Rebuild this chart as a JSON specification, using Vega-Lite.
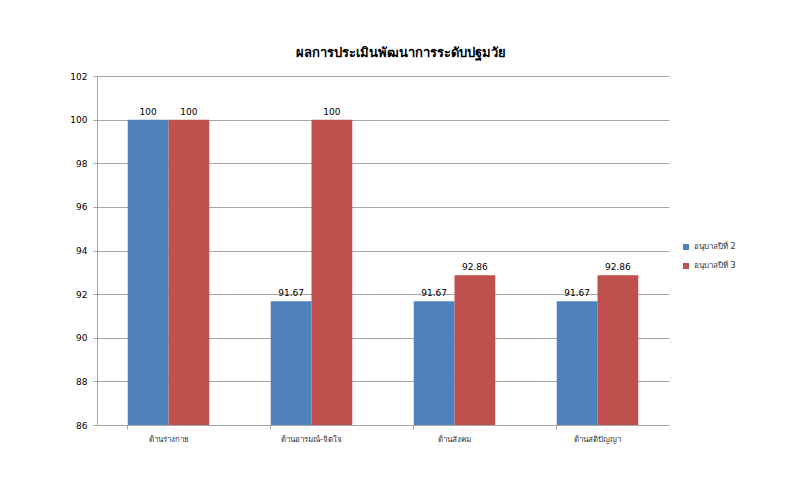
{
  "$schema": "https://vega.github.io/schema/vega-lite/v6.json",
  "width": 572,
  "height": 349,
  "autosize": {"type": "none"},
  "padding": {"left": 97, "top": 76, "right": 131, "bottom": 75},
  "background": "white",
  "title": {
    "text": "ผลการประเมินพัฒนาการระดับปฐมวัย",
    "fontSize": 13,
    "fontWeight": "bold",
    "color": "#000000",
    "offset": 12,
    "dx": 18,
    "font": "DejaVu Sans"
  },
  "data": {
    "values": [
      {"ด้าน": "ด้านร่างกาย", "ชั้น": "อนุบาลปีที่ 2", "คะแนน": 100},
      {"ด้าน": "ด้านร่างกาย", "ชั้น": "อนุบาลปีที่ 3", "คะแนน": 100},
      {"ด้าน": "ด้านอารมณ์-จิตใจ", "ชั้น": "อนุบาลปีที่ 2", "คะแนน": 91.67},
      {"ด้าน": "ด้านอารมณ์-จิตใจ", "ชั้น": "อนุบาลปีที่ 3", "คะแนน": 100},
      {"ด้าน": "ด้านสังคม", "ชั้น": "อนุบาลปีที่ 2", "คะแนน": 91.67},
      {"ด้าน": "ด้านสังคม", "ชั้น": "อนุบาลปีที่ 3", "คะแนน": 92.86},
      {"ด้าน": "ด้านสติปัญญา", "ชั้น": "อนุบาลปีที่ 2", "คะแนน": 91.67},
      {"ด้าน": "ด้านสติปัญญา", "ชั้น": "อนุบาลปีที่ 3", "คะแนน": 92.86}
    ]
  },
  "encoding": {
    "x": {
      "field": "ด้าน",
      "type": "nominal",
      "sort": null,
      "title": null,
      "scale": {"paddingInner": 0.43, "paddingOuter": 0.215},
      "axis": {
        "labelAngle": 0,
        "labelFontSize": 8,
        "labelColor": "#333333",
        "labelPadding": 6,
        "domainColor": "#a6a6a6",
        "tickColor": "#a6a6a6",
        "tickSize": 4,
        "bandPosition": 0,
        "zindex": 1
      }
    },
    "xOffset": {"field": "ชั้น", "type": "nominal"},
    "y": {
      "field": "คะแนน",
      "type": "quantitative",
      "title": null,
      "scale": {"domain": [86, 102], "zero": false, "nice": false},
      "axis": {
        "values": [86, 88, 90, 92, 94, 96, 98, 100, 102],
        "labelFontSize": 9,
        "labelColor": "#000000",
        "labelPadding": 6,
        "domainColor": "#a6a6a6",
        "tickColor": "#a6a6a6",
        "tickSize": 4,
        "gridColor": "#a6a6a6",
        "gridWidth": 1
      }
    }
  },
  "layer": [
    {
      "mark": {"type": "bar", "clip": true},
      "encoding": {
        "color": {
          "field": "ชั้น",
          "type": "nominal",
          "title": null,
          "scale": {"range": ["#4F81BD", "#C0504D"]},
          "legend": {
            "orient": "none",
            "legendX": 585,
            "legendY": 167,
            "symbolType": "square",
            "symbolSize": 36,
            "symbolStrokeWidth": 0,
            "labelFontSize": 8,
            "labelColor": "#333333",
            "rowPadding": 11
          }
        }
      }
    },
    {
      "mark": {"type": "text", "dy": -8, "fontSize": 9, "color": "#000000"},
      "encoding": {
        "text": {"field": "คะแนน", "type": "quantitative"}
      }
    }
  ],
  "config": {
    "view": {"stroke": null},
    "font": "DejaVu Sans"
  }
}
